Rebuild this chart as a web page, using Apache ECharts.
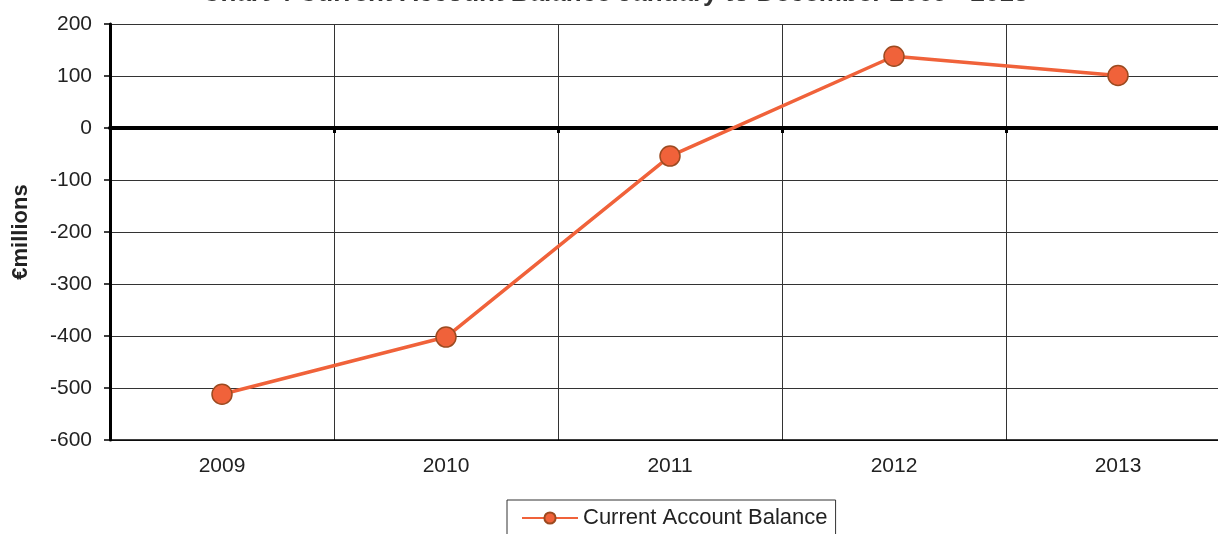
<!DOCTYPE html>
<html>
<head>
<meta charset="utf-8">
<script src="https://cdn.jsdelivr.net/npm/echarts@6/dist/echarts.min.js"></script>
<style>
  html, body { margin: 0; padding: 0; background: #fff; overflow: hidden; }
  #chart { width: 1230px; height: 534px; }
</style>
</head>
<body>
<div id="chart"></div>
<script>
const years = ['2009', '2010', '2011', '2012', '2013']
const balance = [-512, -402, -54, 138, 101]
const seriesName = 'Current Account Balance'
const titleText = 'Chart 4 Current Account Balance January to December 2009 - 2013'

const chart = echarts.init(document.getElementById('chart'))
const font = 'Liberation Sans, Arial, sans-serif'

const options = {
  animation: false,
  textStyle: { fontFamily: font },
  title: {
    text: titleText,
    left: 'center',
    top: -24,
    textStyle: { fontSize: 26, fontWeight: 'bold', color: '#333', fontFamily: font },
  },
  grid: { left: 110, right: 0, top: 24, bottom: 94, containLabel: false, outerBoundsMode: 'none' },
  legend: {
    data: [seriesName],
    left: 507,
    top: 500,
    padding: [7, 8, 20, 14],
    borderWidth: 1,
    borderColor: '#333',
    itemWidth: 56,
    itemHeight: 14,
    itemGap: 4,
    textStyle: { fontSize: 22, color: '#222', fontFamily: font },
  },
  xAxis: [
    {
      type: 'category',
      data: years,
      position: 'bottom',
      boundaryGap: true,
      axisLine: { show: true, onZero: false, lineStyle: { color: '#000', width: 1.5 } },
      axisTick: { show: false },
      axisLabel: { fontSize: 21, color: '#222', margin: 16 },
      splitLine: { show: true, lineStyle: { color: '#333', width: 1 } },
    },
    {
      // thick zero line with its little ticks
      type: 'category',
      data: years,
      position: 'top',
      boundaryGap: true,
      axisLine: { show: true, onZero: true, lineStyle: { color: '#000', width: 4 } },
      axisTick: { show: true, inside: true, length: 5, lineStyle: { color: '#000', width: 3 } },
      axisLabel: { show: false },
      splitLine: { show: false },
    },
  ],
  yAxis: {
    type: 'value',
    min: -600,
    max: 200,
    interval: 100,
    name: '€millions',
    nameLocation: 'middle',
    nameGap: 78,
    nameTextStyle: { fontSize: 22, fontWeight: 'bold', color: '#222' },
    axisLine: { show: true, lineStyle: { color: '#000', width: 3 } },
    axisTick: { show: true, length: 6, lineStyle: { color: '#000', width: 1.5 } },
    axisLabel: { fontSize: 21, color: '#222', margin: 18 },
    splitLine: { show: true, lineStyle: { color: '#333', width: 1 } },
  },
  series: [
    {
      name: seriesName,
      type: 'line',
      data: balance,
      symbol: 'circle',
      symbolSize: 20,
      lineStyle: { color: '#f0623a', width: 3.5 },
      itemStyle: { color: '#f0623a', borderColor: '#9c4a20', borderWidth: 1.5 },
      z: 5,
    },
  ],
}
chart.setOption(options)
</script>
</body>
</html>
